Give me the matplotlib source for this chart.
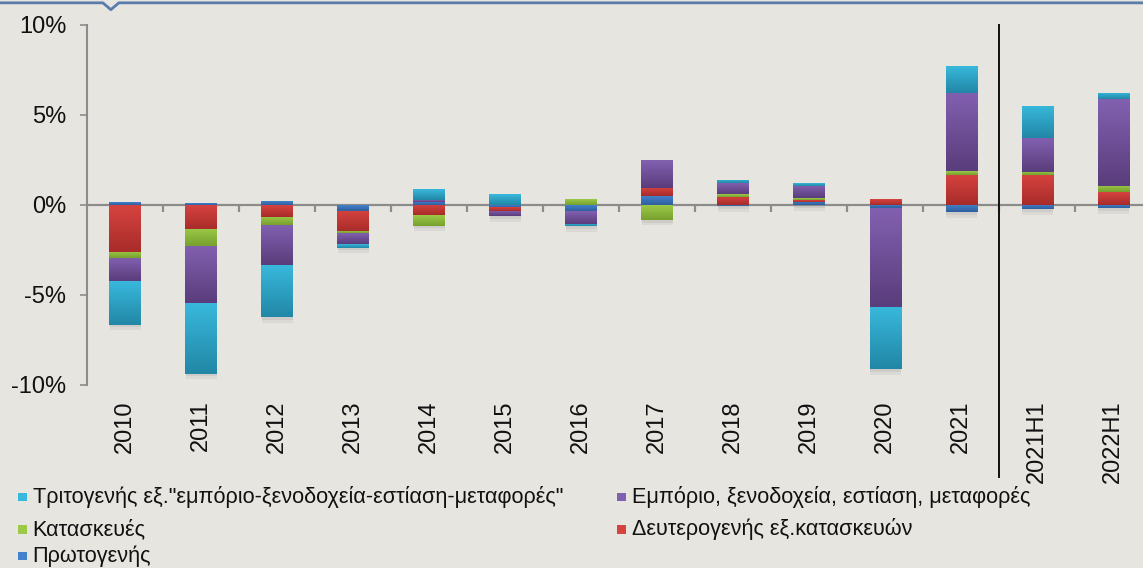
import numpy as np
import matplotlib.pyplot as plt
import matplotlib.patheffects as pe
from matplotlib.colors import LinearSegmentedColormap
from matplotlib.patches import Rectangle
from matplotlib.lines import Line2D

plt.rcParams['font.family'] = ['Liberation Sans', 'DejaVu Sans']

periods = ['2010', '2011', '2012', '2013', '2014', '2015', '2016', '2017',
           '2018', '2019', '2020', '2021', '2021H1', '2022H1']

# contributions, percentage points (stack order: bottom -> top)
primary = [0.15, 0.10, 0.22, -0.31, 0.17, -0.10, -0.33, 0.50, -0.08, 0.18, -0.19, -0.39, -0.24, -0.19]
secondary = [-2.60, -1.33, -0.65, -1.13, -0.56, -0.21, -0.02, 0.46, 0.46, 0.10, 0.33, 1.68, 1.67, 0.72]
construction = [-0.35, -0.95, -0.46, -0.12, -0.59, 0.00, 0.33, -0.83, 0.15, 0.10, 0.00, 0.20, 0.18, 0.35]
trade = [-1.28, -3.18, -2.24, -0.61, 0.11, -0.30, -0.69, 1.52, 0.60, 0.70, -5.46, 4.35, 1.85, 4.82]
tertiary = [-2.41, -3.91, -2.87, -0.20, 0.59, 0.61, -0.15, 0.00, 0.18, 0.16, -3.46, 1.48, 1.82, 0.35]

series = [primary, secondary, construction, trade, tertiary]
labels = ['Πρωτογενής',
          'Δευτερογενής εξ.κατασκευών',
          'Κατασκευές',
          'Εμπόριο, ξενοδοχεία, εστίαση, μεταφορές',
          'Τριτογενής εξ."εμπόριο-ξενοδοχεία-εστίαση-μεταφορές"']
top_colors = ['#4281cc', '#d6433f', '#9cc948', '#8260b0', '#38b8dc']
bot_colors = ['#2f5f9e', '#a82c2a', '#77a02e', '#5a3d7c', '#2287a6']
legend_order = [4, 3, 2, 1, 0]

bg = '#e6e5e0'
fig = plt.figure(figsize=(11.43, 5.68), dpi=100, facecolor=bg)
ax = fig.add_axes([0.0761, 0.3222, 0.931, 0.6338], facecolor=bg)

x = np.arange(len(periods))
pos_base = np.zeros(len(periods))
neg_base = np.zeros(len(periods))
width = 0.41

shadow = [pe.SimplePatchShadow(offset=(0.5, -4), shadow_rgbFace='#888888', alpha=0.12),
          pe.SimplePatchShadow(offset=(0.5, -2), shadow_rgbFace='#888888', alpha=0.15),
          pe.Normal()]

for vals, c_top, c_bot in zip(series, top_colors, bot_colors):
    vals = np.array(vals)
    bottoms = np.where(vals >= 0, pos_base, neg_base)
    bars = ax.bar(x, vals, width, bottom=bottoms, color=c_top, linewidth=0, zorder=3)
    cmap = LinearSegmentedColormap.from_list('g', [c_top, c_bot])
    for rect in bars:
        if rect.get_height() == 0:
            continue
        rect.set_path_effects(shadow)
        x0, w = rect.get_x(), rect.get_width()
        y0 = min(rect.get_y(), rect.get_y() + rect.get_height())
        y1 = max(rect.get_y(), rect.get_y() + rect.get_height())
        img = ax.imshow(np.linspace(0, 1, 64).reshape(-1, 1), cmap=cmap, aspect='auto',
                        extent=[x0, x0 + w, y0, y1], origin='upper', zorder=4)
        img.set_clip_path(rect)
    pos_base += np.where(vals >= 0, vals, 0)
    neg_base += np.where(vals < 0, vals, 0)

ax.set_xlim(-0.5, len(periods) - 0.5)
ax.set_ylim(-10, 10)

# zero line with category ticks
ax.axhline(0, color='#8c8c8c', lw=1.6, zorder=2)
ax.vlines(x[:-1] + 0.5, -0.38, 0, color='#8c8c8c', lw=1.6, zorder=2)

# separator between annual and half-year data
ax.axvline(11.5, ymin=-0.256, ymax=1.0, color='#111111', lw=1.4, clip_on=False, zorder=5)

for s in ['top', 'right', 'bottom']:
    ax.spines[s].set_visible(False)
ax.spines['left'].set_color('#8c8c8c')
ax.spines['left'].set_linewidth(1.5)

ax.set_yticks([10, 5, 0, -5, -10])
ax.set_yticklabels(['10%', '5%', '0%', '-5%', '-10%'])
ax.tick_params(axis='y', direction='out', length=5, width=1.2, color='#8c8c8c',
               pad=10, labelsize=17, labelcolor='#111111')
ax.set_xticks(x)
ax.set_xticklabels(periods, rotation=90, va='top', ha='center')
ax.tick_params(axis='x', length=0, pad=11, labelsize=17, labelcolor='#111111')

# legend rows
leg_pos = [(0.0158, 0.125), (0.5400, 0.125), (0.0158, 0.068), (0.5400, 0.068), (0.0158, 0.021)]
for (lx, ly), idx in zip(leg_pos, legend_order):
    fig.patches.append(Rectangle((lx, ly - 0.0075), 0.0075, 0.015, transform=fig.transFigure,
                                 facecolor=top_colors[idx], edgecolor='none'))
    fig.text(lx + 0.0128, ly, labels[idx], fontsize=15.6, va='center', ha='left', color='#111111')

# frame line at the top
fig.add_artist(Line2D([0, 0.090, 0.097, 0.104, 1], [0.995, 0.995, 0.983, 0.995, 0.995],
                      transform=fig.transFigure, color='#5b7bab', lw=2))

fig.savefig('out.png', dpi=100, facecolor=bg)
